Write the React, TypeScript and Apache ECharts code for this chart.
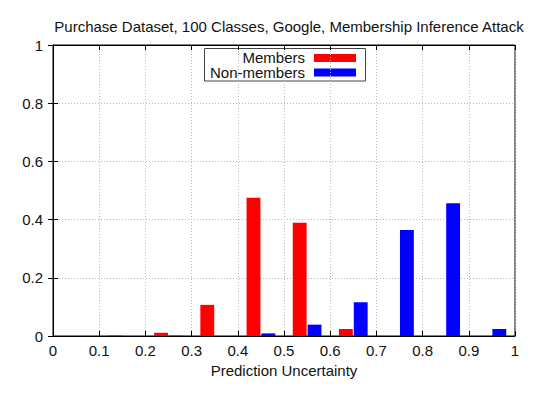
import React, { useEffect, useRef } from "react";
import * as echarts from "echarts";

const bins = ["0.0", "0.1", "0.2", "0.3", "0.4", "0.5", "0.6", "0.7", "0.8", "0.9"];
const members = [0, 0.002, 0.011, 0.107, 0.475, 0.389, 0.024, 0, 0, 0];
const nonMembers = [0, 0, 0.001, 0, 0.009, 0.039, 0.116, 0.364, 0.456, 0.024];
const titleText = "Purchase Dataset, 100 Classes, Google, Membership Inference Attack";
const xName = "Prediction Uncertainty";
const seriesNames = ["Members", "Non-members"];
const colors = ["#ff0000", "#0000ff"];

const FONT = "'Liberation Sans', Arial, Helvetica, sans-serif";
const FS = 15;
const fmt = (v: number) => String(+v.toFixed(1));

export default function App() {
  const ref = useRef<HTMLDivElement>(null);
  useEffect(() => {
    if (!ref.current) return;
    const chart = echarts.init(ref.current, null, { renderer: "svg" });
    const grid = { left: 53, right: 25, top: 45, bottom: 64 };
    const tick = { show: true, inside: true, length: 5, lineStyle: { color: "#000" } };
    const gridLine = { show: true, lineStyle: { type: [1, 2], color: "#b8b8b8", width: 1 } };
    chart.setOption({
      animation: false,
      textStyle: { fontFamily: FONT },
      title: {
        text: titleText,
        left: 284,
        top: 14,
        textAlign: "center",
        textStyle: { fontFamily: FONT, fontSize: FS, fontWeight: "normal", color: "#111" },
      },
      grid: { ...grid, show: true, borderColor: "#000", borderWidth: 1 },
      xAxis: [
        {
          type: "value",
          min: 0,
          max: 1,
          interval: 0.1,
          position: "bottom",
          name: xName,
          nameLocation: "middle",
          nameGap: 27,
          nameTextStyle: { fontFamily: FONT, fontSize: FS, color: "#111" },
          axisLine: { show: true, lineStyle: { color: "#000" } },
          axisTick: tick,
          axisLabel: { formatter: fmt, fontFamily: FONT, fontSize: FS, color: "#111", margin: 7 },
          splitLine: gridLine,
        },
        {
          type: "category",
          data: bins,
          boundaryGap: true,
          show: false,
          position: "bottom",
        },
        {
          type: "value",
          min: 0,
          max: 1,
          interval: 0.1,
          position: "top",
          axisLine: { show: true, lineStyle: { color: "#000" } },
          axisTick: tick,
          axisLabel: { show: false },
          splitLine: { show: false },
        },
      ],
      yAxis: [
        {
          type: "value",
          min: 0,
          max: 1,
          interval: 0.2,
          position: "left",
          axisLine: { show: true, lineStyle: { color: "#000" } },
          axisTick: tick,
          axisLabel: { formatter: fmt, fontFamily: FONT, fontSize: FS, color: "#111", margin: 10 },
          splitLine: gridLine,
        },
        {
          type: "value",
          min: 0,
          max: 1,
          interval: 0.2,
          position: "right",
          axisLine: { show: true, lineStyle: { color: "#000" } },
          axisTick: tick,
          axisLabel: { show: false },
          splitLine: { show: false },
        },
      ],
      series: [
        {
          name: seriesNames[0],
          type: "bar",
          xAxisIndex: 1,
          yAxisIndex: 0,
          data: members,
          barWidth: "30%",
          barGap: "7%",
          itemStyle: { color: colors[0] },
        },
        {
          name: seriesNames[1],
          type: "bar",
          xAxisIndex: 1,
          yAxisIndex: 0,
          data: nonMembers,
          barWidth: "30%",
          barGap: "7%",
          itemStyle: { color: colors[1] },
        },
      ],
      graphic: [
        {
          type: "group",
          z: 100,
          children: [
            {
              type: "rect",
              shape: { x: 204.5, y: 48.5, width: 161, height: 32.5 },
              style: { fill: "#fff", stroke: "#444", lineWidth: 1 },
            },
            {
              type: "text",
              x: 305,
              y: 57,
              style: {
                text: seriesNames[0],
                align: "right",
                verticalAlign: "middle",
                font: `${FS}px ${FONT}`,
                lineHeight: 15,
                fill: "#111",
              },
            },
            {
              type: "rect",
              shape: { x: 314, y: 54, width: 42, height: 8 },
              style: { fill: colors[0] },
            },
            {
              type: "text",
              x: 305,
              y: 72.5,
              style: {
                text: seriesNames[1],
                align: "right",
                verticalAlign: "middle",
                font: `${FS}px ${FONT}`,
                lineHeight: 15,
                fill: "#111",
              },
            },
            {
              type: "rect",
              shape: { x: 314, y: 68.5, width: 42, height: 8 },
              style: { fill: colors[1] },
            },
          ],
        },
      ],
    });
    return () => chart.dispose();
  }, []);
  return (
    <div
      ref={ref}
      style={{ position: "fixed", left: 0, top: 0, width: 540, height: 400, background: "#fff" }}
    />
  );
}
